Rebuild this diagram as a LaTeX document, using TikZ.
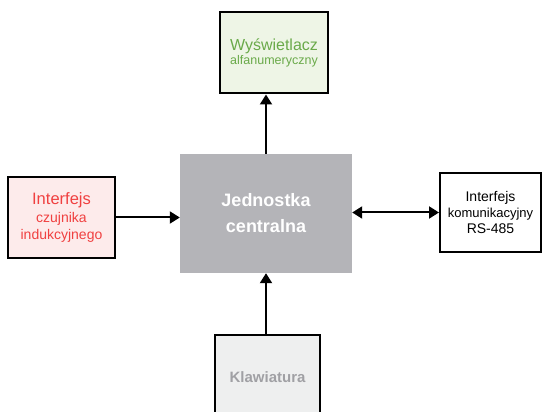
\documentclass[tikz,border=0pt]{standalone}
\usepackage{fontspec}
\setmainfont{Liberation Sans}
\usetikzlibrary{positioning, arrows.meta}
\definecolor{dispFill}{RGB}{238,245,230}
\definecolor{dispText}{RGB}{106,170, 74}
\definecolor{senFill}{RGB}{253,235,235}
\definecolor{senText}{RGB}{240, 64, 64}
\definecolor{cpuFill}{RGB}{180,180,184}
\definecolor{keyFill}{RGB}{238,239,239}
\definecolor{keyText}{RGB}{160,160,164}

\begin{document}
\begin{tikzpicture}[x=1pt, y=-1pt,
    blk/.style={draw=black, line width=2pt, align=center, inner sep=0pt},
    arr/.style={line width=2pt, -{Triangle[length=10pt, width=12pt]}}
  ]
  \useasboundingbox (0,0) rectangle (542,412);

  % jednostka centralna
  \node[fill=cpuFill, minimum width=172pt, minimum height=119pt, align=center,
        text=white, font=\fontsize{18}{26}\selectfont\bfseries] (cu) at (266,213.5)
       {Jednostka\\centralna};

  % bloki dookola
  \node[blk, fill=dispFill, text=dispText, minimum width=108pt, minimum height=81pt]
       (disp) at (274,53)
       {{\fontsize{16}{18}\selectfont Wyświetlacz}\\{\fontsize{12.5}{18}\selectfont alfanumeryczny}};
  \node[blk, fill=senFill, text=senText, minimum width=107pt, minimum height=81pt,
        font=\fontsize{14}{17.5}\selectfont]
       (sen) at (61.5,217.5)
       {{\fontsize{16.5}{18}\selectfont Interfejs}\\czujnika\\indukcyjnego};
  \node[blk, fill=white, minimum width=101pt, minimum height=79pt,
        font=\fontsize{14}{16}\selectfont]
       (com) at (490.5,212.5)
       {Interfejs\\{\fontsize{13}{16.5}\selectfont komunikacyjny}\\RS-485};
  \node[blk, fill=keyFill, text=keyText, minimum width=105pt, minimum height=84pt,
        font=\fontsize{15}{18}\selectfont\bfseries]
       (key) at (267.5,377) {Klawiatura};

  % polaczenia
  \draw[arr] (cu.north) -- (cu.north |- disp.south);
  \draw[arr] (sen.east) -- (sen.east -| cu.west);
  \draw[arr, {Triangle[length=10pt, width=12pt]}-{Triangle[length=10pt, width=12pt]}]
       (cu.east |- com.west) -- (com.west);
  \draw[arr] (key.north -| cu.south) -- (cu.south);
\end{tikzpicture}
\end{document}
